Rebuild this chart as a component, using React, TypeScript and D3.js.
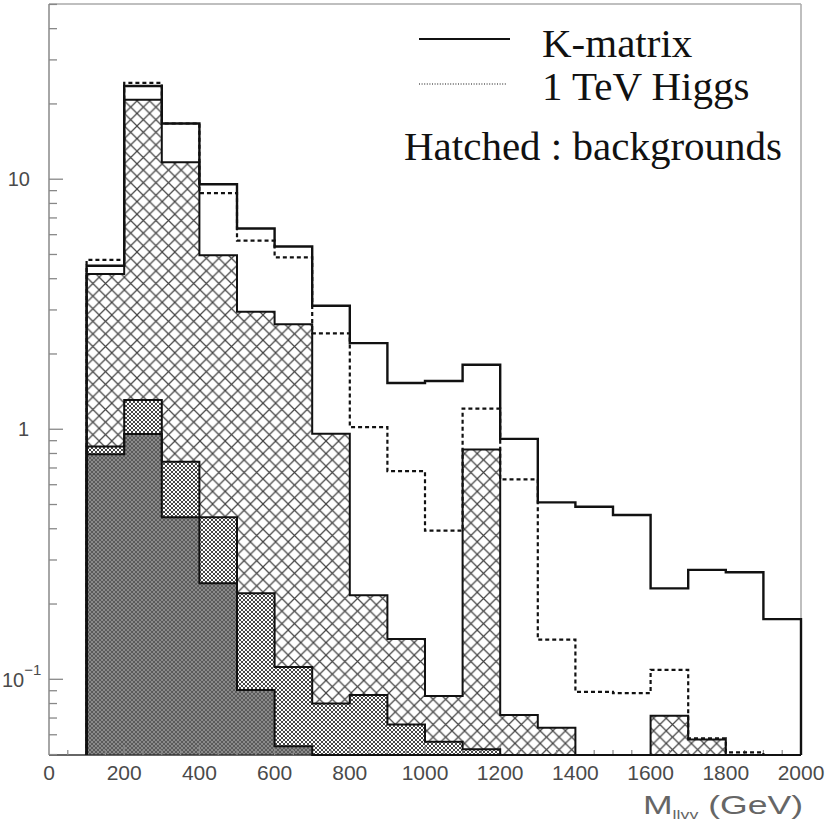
import React from "react";
import * as d3 from "d3";

// Bin lower edges (GeV), bin width 100
const binLow = [100, 200, 300, 400, 500, 600, 700, 800, 900, 1000, 1100, 1200, 1300, 1400, 1500, 1600, 1700, 1800, 1900];
const binWidth = 100;

// K-matrix (signal + backgrounds), solid line
const kMatrix = [4.51, 23.6, 16.7, 9.55, 6.35, 5.38, 3.12, 2.21, 1.53, 1.56, 1.81, 0.915, 0.51, 0.49, 0.454, 0.231, 0.274, 0.268, 0.174];
// 1 TeV Higgs (signal + backgrounds), dashed line
const higgs = [4.76, 24.3, 16.7, 8.79, 5.68, 4.87, 2.42, 1.02, 0.68, 0.393, 1.21, 0.63, 0.144, 0.089, 0.088, 0.109, 0.058, 0.051, 0];
// Stacked backgrounds (cumulative levels)
const bkgTotal = [4.18, 20.8, 11.7, 4.97, 2.95, 2.63, 0.96, 0.217, 0.145, 0.0857, 0.83, 0.072, 0.064, 0, 0, 0.0715, 0.0575, 0, 0];
const bkgFine = [0.853, 1.31, 0.742, 0.445, 0.221, 0.112, 0.08, 0.0865, 0.066, 0.0563, 0.0525, 0, 0, 0, 0, 0, 0, 0, 0];
const bkgDark = [0.794, 0.958, 0.445, 0.242, 0.0906, 0.054, 0, 0, 0, 0, 0, 0, 0, 0, 0, 0, 0, 0, 0];

const xTickLabels = [0, 200, 400, 600, 800, 1000, 1200, 1400, 1600, 1800, 2000];
const yDecades = [0.1, 1, 10];

const W = 825;
const H = 824;
const left = 49;
const right = 801;
const top = 4;
const bottom = 755;

const xDomain: [number, number] = [0, 2000];
const yDomain: [number, number] = [0.0498, 50.2];

export default function App() {
  const x = d3.scaleLinear().domain(xDomain).range([left, right]);
  const y = d3.scaleLog().domain(yDomain).range([bottom, top]).clamp(true);
  const yMin = yDomain[0];

  const pts = (vals: number[]): [number, number][] => {
    const p: [number, number][] = [[binLow[0], yMin]];
    binLow.forEach((lo, i) => p.push([lo, Math.max(vals[i], yMin)]));
    const last = binLow[binLow.length - 1] + binWidth;
    p.push([last, Math.max(vals[vals.length - 1], yMin)]);
    p.push([last, yMin]);
    return p;
  };

  const line = d3
    .line<[number, number]>()
    .x((d) => x(d[0]))
    .y((d) => y(d[1]))
    .curve(d3.curveStepAfter);
  const area = d3
    .area<[number, number]>()
    .x((d) => x(d[0]))
    .y0(bottom)
    .y1((d) => y(d[1]))
    .curve(d3.curveStepAfter);

  const yMinor: number[] = [];
  [0.01, 0.1, 1, 10].forEach((dec) => {
    for (let k = 2; k <= 9; k++) {
      const v = dec * k;
      if (v > yDomain[0] && v < yDomain[1]) yMinor.push(v);
    }
  });
  const xMinor = d3.range(50, 2000, 50);

  const tickFont = "'Liberation Sans', Arial, sans-serif";
  const tickColor = "#4a4a4a";
  const serif = "'Liberation Serif', 'Times New Roman', serif";

  return (
    <svg
      width={W}
      height={H}
      style={{ position: "absolute", left: 0, top: 0, background: "#fff" }}
    >
      <defs>
        <pattern id="bigHatch" patternUnits="userSpaceOnUse" width={12.6} height={12.6} x={x(100)} y={0}>
          <rect width={12.6} height={12.6} fill="#fff" />
          <path d="M0,0 L12.6,12.6 M0,12.6 L12.6,0" stroke="#444" strokeWidth={1.2} />
        </pattern>
        <pattern id="fineHatch" patternUnits="userSpaceOnUse" width={4} height={4}>
          <rect width={4} height={4} fill="#fff" />
          <path d="M0,0 L4,4 M0,4 L4,0" stroke="#333" strokeWidth={0.9} />
        </pattern>
        <pattern id="darkHatch" patternUnits="userSpaceOnUse" width={4} height={4}>
          <rect width={4} height={4} fill="#8a8a8a" />
          <path d="M0,0 L4,4 M0,4 L4,0" stroke="#555" strokeWidth={0.9} />
        </pattern>
      </defs>

      {/* fills */}
      <path d={area(pts(bkgTotal)) || ""} fill="url(#bigHatch)" />
      <path d={area(pts(bkgFine)) || ""} fill="url(#fineHatch)" />
      <path d={area(pts(bkgDark)) || ""} fill="url(#darkHatch)" />

      {/* frame */}
      <line x1={left} x2={right} y1={top} y2={top} stroke="#aaa" strokeWidth={1.5} />
      <line x1={right} x2={right} y1={top} y2={bottom} stroke="#aaa" strokeWidth={1.5} />
      <line x1={left} x2={left} y1={top} y2={bottom} stroke="#888" strokeWidth={1.5} />
      <line x1={left} x2={right} y1={bottom} y2={bottom} stroke="#333" strokeWidth={1.5} />

      {/* y ticks */}
      {yDecades.map((v) => (
        <line key={"yM" + v} x1={left} x2={left + 14} y1={y(v)} y2={y(v)} stroke="#888" strokeWidth={1.3} />
      ))}
      {yMinor.map((v) => (
        <line key={"ym" + v} x1={left} x2={left + 8} y1={y(v)} y2={y(v)} stroke="#888" strokeWidth={1.3} />
      ))}
      {/* x ticks */}
      {xMinor.map((v) => (
        <line key={"xm" + v} x1={x(v)} x2={x(v)} y1={bottom} y2={bottom - (v % 200 === 0 ? 9 : 5)} stroke="#888" strokeWidth={1.2} />
      ))}

      {/* outlines */}
      <path d={line(pts(bkgTotal)) || ""} fill="none" stroke="#111" strokeWidth={2} />
      <path d={line(pts(bkgFine)) || ""} fill="none" stroke="#111" strokeWidth={2} />
      <path d={line(pts(bkgDark)) || ""} fill="none" stroke="#111" strokeWidth={2} />
      <path d={line(pts(kMatrix)) || ""} fill="none" stroke="#111" strokeWidth={2.4} />
      <path d={line(pts(higgs)) || ""} fill="none" stroke="#111" strokeWidth={2.2} strokeDasharray="4,3" />

      {/* y labels */}
      <text x={30} y={y(10) + 7} textAnchor="end" fontFamily={tickFont} fontSize={20} fill={tickColor}>10</text>
      <text x={29} y={y(1) + 7} textAnchor="end" fontFamily={tickFont} fontSize={20} fill={tickColor}>1</text>
      <text x={2} y={y(0.1) + 8} fontFamily={tickFont} fontSize={20} fill={tickColor}>
        10
        <tspan dy={-12} fontSize={15}>−1</tspan>
      </text>

      {/* x labels */}
      {xTickLabels.map((v) => (
        <text key={"xl" + v} x={x(v)} y={780} textAnchor="middle" fontFamily={tickFont} fontSize={21} fill={tickColor}>
          {v}
        </text>
      ))}

      {/* x title */}
      <text x={643} y={814} fontFamily={tickFont} fontSize={26} fill="#666" textLength={160} lengthAdjust="spacingAndGlyphs">
        M<tspan fontSize={13} dy={5}>llvv</tspan>
        <tspan dy={-5}> (GeV)</tspan>
      </text>

      {/* legend */}
      <line x1={419} x2={510} y1={39} y2={39} stroke="#111" strokeWidth={2} />
      <text x={542} y={57} fontFamily={serif} fontSize={41} fill="#111">K-matrix</text>
      <line x1={419} x2={507} y1={84} y2={84} stroke="#111" strokeWidth={1.2} strokeDasharray="1,1.6" />
      <text x={542} y={100} fontFamily={serif} fontSize={41} fill="#111">1 TeV Higgs</text>
      <text x={404} y={160} fontFamily={serif} fontSize={41} fill="#111">Hatched : backgrounds</text>
    </svg>
  );
}
